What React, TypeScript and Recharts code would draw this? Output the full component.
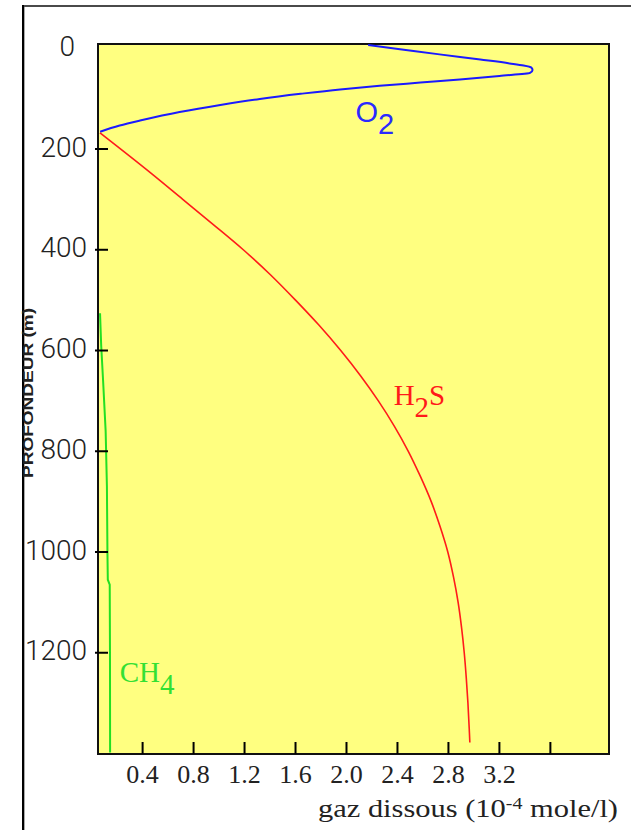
import {
  ReferenceArea,
  ReferenceDot,
  Scatter,
  ScatterChart,
  XAxis,
  YAxis
} from "recharts";

// depth in m, dissolved gas in 1e-4 mole/l
const o2Depth = [-6.5, 1.8, 12.1, 22.4, 30, 34.1, 38.1, 43.1, 49, 55, 62, 68.1, 74.4, 81.6, 90.4, 100.6, 112.5, 126.5, 143.5, 153.4, 165.6];
const o2Value = [2.17, 2.42, 2.73, 3.05, 3.28, 3.39, 3.45, 3.46, 3.44, 3.2, 2.89, 2.58, 2.26, 1.95, 1.64, 1.32, 1.01, 0.69, 0.38, 0.22, 0.067];

const h2sDepth = [168, 250, 300, 350, 400, 450, 500, 550, 600, 650, 700, 750, 800, 850, 900, 950, 1000, 1050, 1100, 1150, 1200, 1250, 1300, 1350, 1378];
const h2sValue = [0.065, 0.475, 0.715, 0.955, 1.19, 1.405, 1.6, 1.785, 1.955, 2.11, 2.25, 2.375, 2.485, 2.58, 2.665, 2.735, 2.795, 2.84, 2.876, 2.903, 2.924, 2.94, 2.953, 2.963, 2.968];

const ch4Depth = [526, 590, 660, 760, 870, 1000, 1055, 1065, 1200, 1398];
const ch4Value = [0.066, 0.075, 0.09, 0.11, 0.12, 0.124, 0.127, 0.142, 0.144, 0.145];

const depthTicks = [0, 200, 400, 600, 800, 1000, 1200];
const gasTicks = [0.4, 0.8, 1.2, 1.6, 2.0, 2.4, 2.8, 3.2, 3.6];
const gasLabels = ["0.4", "0.8", "1.2", "1.6", "2.0", "2.4", "2.8", "3.2"];

const X_DOMAIN: [number, number] = [0.05, 4.06];
const Y_DOMAIN: [number, number] = [-8.5, 1401];

const SANS = "'Liberation Sans', Arial, sans-serif";
const LIGHT = "Roboto, 'Liberation Sans', sans-serif";
const SERIF = "'Liberation Serif', 'Times New Roman', serif";

const toPoints = (depth: number[], value: number[]) =>
  depth.map((d, i) => ({ x: value[i], depth: d }));

const o2Data = toPoints(o2Depth, o2Value);
const h2sData = toPoints(h2sDepth, h2sValue);
const ch4Data = toPoints(ch4Depth, ch4Value);

function DepthTick({ x, y, payload }: any) {
  const v = payload.value;
  return (
    <g>
      {v !== 0 && <line x1={x - 3} x2={x + 10} y1={y} y2={y} stroke="#000" strokeWidth={2} />}
      <text
        x={v === 0 ? x - 23 : x - 11}
        y={y - 2}
        textAnchor="end"
        dominantBaseline="central"
        fontFamily={LIGHT}
        fontWeight={300}
        fontSize={28}
        fill="#222"
      >
        {v}
      </text>
    </g>
  );
}

function GasTick({ x, y, payload }: any) {
  const label = gasLabels[gasTicks.indexOf(payload.value)];
  return (
    <g>
      <line x1={x} x2={x} y1={y} y2={y - 12} stroke="#000" strokeWidth={2} />
      {label && (
        <text x={x} y={y + 29} textAnchor="middle" fontFamily={SERIF} fontSize={26} fill="#222">
          {label}
        </text>
      )}
    </g>
  );
}

function seriesLabel(main: string, sub: string, after: string, color: string, font: string) {
  return (props: any) => {
    const { x, y } = props.viewBox;
    return (
      <text x={x} y={y} fontFamily={font} fontSize={29} fill={color}>
        {main}
        <tspan dy={12}>{sub}</tspan>
        {after && <tspan dy={-12}>{after}</tspan>}
      </text>
    );
  };
}

const noDot = () => <g />;

export default function App() {
  return (
    <div style={{ position: "absolute", left: 0, top: 0, width: 631, height: 830, background: "#fff" }}>
      <ScatterChart width={631} height={830} margin={{ top: 44, right: 22, bottom: 66, left: 88 }}>
        <XAxis
          type="number"
          dataKey="x"
          domain={X_DOMAIN}
          allowDataOverflow
          ticks={gasTicks}
          interval={0}
          height={10}
          axisLine={false}
          tickLine={false}
          tickSize={0}
          tickMargin={0}
          tick={<GasTick />}
        />
        <YAxis
          type="number"
          dataKey="depth"
          domain={Y_DOMAIN}
          allowDataOverflow
          reversed
          ticks={depthTicks}
          interval={0}
          width={10}
          axisLine={false}
          tickLine={false}
          tickSize={0}
          tickMargin={0}
          tick={<DepthTick />}
        />
        <ReferenceArea
          x1={X_DOMAIN[0]}
          x2={X_DOMAIN[1]}
          y1={Y_DOMAIN[0]}
          y2={Y_DOMAIN[1]}
          fill="#ffff80"
          fillOpacity={1}
          stroke="#111"
          strokeWidth={2}
        />
        <Scatter
          data={o2Data}
          fill="#1a1aff"
          line={{ stroke: "#1a1aff", strokeWidth: 2 }}
          lineJointType="monotoneY"
          shape={noDot}
          isAnimationActive={false}
        />
        <Scatter
          data={h2sData}
          fill="#ff1a1a"
          line={{ stroke: "#ff1a1a", strokeWidth: 1.6 }}
          lineJointType="monotoneY"
          shape={noDot}
          isAnimationActive={false}
        />
        <Scatter
          data={ch4Data}
          fill="#22e022"
          line={{ stroke: "#22e022", strokeWidth: 2 }}
          shape={noDot}
          isAnimationActive={false}
        />
        <ReferenceDot x={2.07} y={146} r={0} ifOverflow="visible" label={seriesLabel("O", "2", "", "#2a2aff", SANS)} />
        <ReferenceDot x={2.37} y={708} r={0} ifOverflow="visible" label={seriesLabel("H", "2", "S", "#ff1a1a", SERIF)} />
        <ReferenceDot x={0.22} y={1258} r={0} ifOverflow="visible" label={seriesLabel("CH", "4", "", "#33e033", SERIF)} />
      </ScatterChart>
      <svg width={631} height={830} style={{ position: "absolute", left: 0, top: 0, pointerEvents: "none" }}>
        <line x1={22} x2={631} y1={6} y2={6} stroke="#4a4a4a" strokeWidth={2} />
        <line x1={23} x2={23} y1={5} y2={830} stroke="#000" strokeWidth={2} />
        <line x1={24.5} x2={24.5} y1={7} y2={830} stroke="#aaa" strokeWidth={1} />
        <text
          transform="translate(33, 393) rotate(-90)"
          textAnchor="middle"
          fontFamily={SANS}
          fontWeight="bold"
          fontSize={15}
          textLength={170}
          lengthAdjust="spacingAndGlyphs"
          fill="#222"
        >
          PROFONDEUR (m)
        </text>
        <text x={318} y={817} fontFamily={SERIF} fontSize={26} fill="#222" textLength={300} lengthAdjust="spacingAndGlyphs">
          gaz dissous (10
          <tspan dy={-8} fontSize={17}>-4</tspan>
          <tspan dy={8}> mole/l)</tspan>
        </text>
      </svg>
    </div>
  );
}
